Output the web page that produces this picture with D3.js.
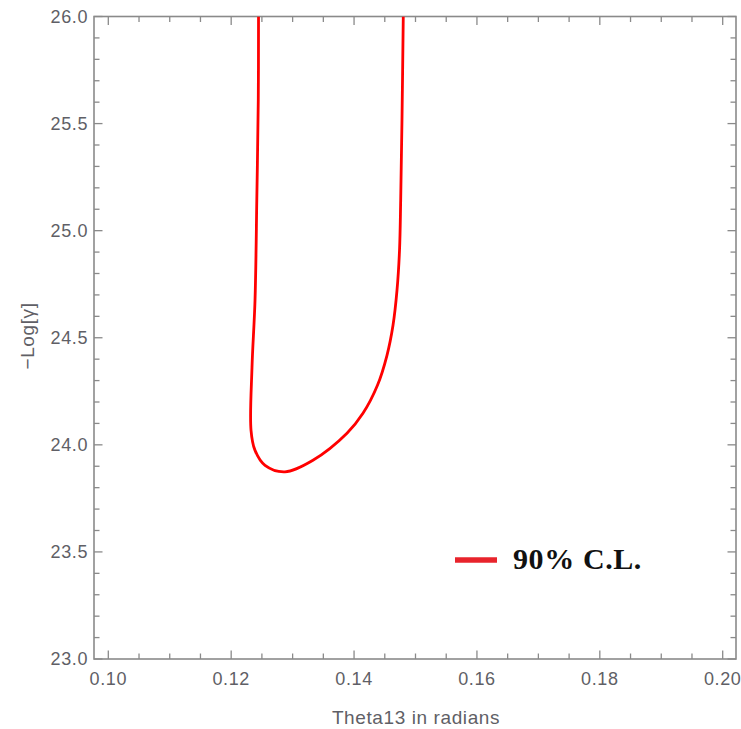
<!DOCTYPE html>
<html>
<head>
<meta charset="utf-8">
<script src="https://cdn.jsdelivr.net/npm/d3@7"></script>
<style>
html,body{margin:0;padding:0;background:#fff;}
svg{display:block;}
</style>
</head>
<body>
<svg id="chart" width="741" height="729"></svg>
<script>
// ---- data ----
const xTicks = [0.10, 0.12, 0.14, 0.16, 0.18, 0.20];
const yTicks = [23.0, 23.5, 24.0, 24.5, 25.0, 25.5, 26.0];
const contourTheta = [0.12445, 0.12441, 0.12417, 0.12388, 0.12339, 0.12323, 0.12388, 0.12551, 0.12876, 0.13331, 0.13885, 0.14145, 0.14381, 0.14536, 0.14634, 0.14699, 0.14740, 0.14759, 0.14780, 0.14801];
const contourLogGamma = [26.0, 25.61, 25.143, 24.675, 24.362, 24.068, 23.974, 23.904, 23.874, 23.928, 24.054, 24.147, 24.278, 24.418, 24.558, 24.722, 24.909, 25.143, 25.516, 26.0];
const legendLabel = "90% C.L.";
const xTitle = "Theta13 in radians";
const yTitle = "\u2212Log[\u03b3]";

const svg = d3.select("#chart");
const L = 94, R = 736, T = 16.5, B = 659;
const x = d3.scaleLinear().domain([0.10, 0.20]).range([108.3, 722.7]);
const y = d3.scaleLinear().domain([23, 26]).range([B, T]);
const axisColor = "#8a8a8a";
const labelColor = "#5f5f66";

// clip
svg.append("defs").append("clipPath").attr("id","clip")
  .append("rect").attr("x",L).attr("y",T).attr("width",R-L).attr("height",B-T);

// minor tick values
const xMinor = d3.range(0, 21).map(i => +(0.10 + i*0.005).toFixed(4)).filter(v => !xTicks.some(t => Math.abs(t-v)<1e-9));
const yMinor = d3.range(0, 31).map(i => +(23 + i*0.1).toFixed(3)).filter(v => !yTicks.some(t => Math.abs(t-v)<1e-9));

const g = svg.append("g");
const tickStyle = s => s.attr("stroke", axisColor).attr("stroke-width", 1.3);

function xTickLines(vals, len){
  vals.forEach(v => {
    const px = x(v);
    tickStyle(g.append("line").attr("x1",px).attr("x2",px).attr("y1",B).attr("y2",B-len));
    tickStyle(g.append("line").attr("x1",px).attr("x2",px).attr("y1",T).attr("y2",T+len));
  });
}
function yTickLines(vals, len){
  vals.forEach(v => {
    const py = y(v);
    tickStyle(g.append("line").attr("x1",L).attr("x2",L+len).attr("y1",py).attr("y2",py));
    tickStyle(g.append("line").attr("x1",R).attr("x2",R-len).attr("y1",py).attr("y2",py));
  });
}
xTickLines(xTicks, 8.5);
xTickLines(xMinor, 5.5);
yTickLines(yTicks, 8.5);
yTickLines(yMinor, 5.5);

// frame
g.append("rect").attr("x",L).attr("y",T).attr("width",R-L).attr("height",B-T)
  .attr("fill","none").attr("stroke",axisColor).attr("stroke-width",1.6);

// tick labels
const tickFont = "Liberation Sans, Arial, sans-serif";
xTicks.forEach(v => {
  g.append("text").attr("x", x(v)).attr("y", B+26).attr("text-anchor","middle")
    .attr("font-family", tickFont).attr("font-size", 18).attr("letter-spacing", 0.6)
    .attr("fill", labelColor).text(d3.format(".2f")(v));
});
yTicks.forEach(v => {
  g.append("text").attr("x", L-6).attr("y", y(v)).attr("dy","0.36em").attr("text-anchor","end")
    .attr("font-family", tickFont).attr("font-size", 18).attr("letter-spacing", 0.6)
    .attr("fill", labelColor).text(d3.format(".1f")(v));
});

// axis titles
g.append("text").attr("x", 416).attr("y", 724).attr("text-anchor","middle")
  .attr("font-family", tickFont).attr("font-size", 19).attr("letter-spacing", 0.6)
  .attr("fill", labelColor).text(xTitle);
g.append("text").attr("transform","translate(34,336) rotate(-90)").attr("text-anchor","middle")
  .attr("font-family", tickFont).attr("font-size", 19).attr("letter-spacing", 0.6)
  .attr("fill", labelColor).text(yTitle);

// contour line
const pts = contourTheta.map((t,i) => [t, contourLogGamma[i]]);
const line = d3.line().x(d => x(d[0])).y(d => y(d[1])).curve(d3.curveCatmullRom.alpha(0.5));
svg.append("path").attr("clip-path","url(#clip)").datum(pts).attr("d", line)
  .attr("fill","none").attr("stroke","#ff0000").attr("stroke-width",2.8)
  .attr("stroke-linejoin","round");

// legend
svg.append("line").attr("x1",455).attr("x2",497).attr("y1",560).attr("y2",560)
  .attr("stroke","#e8242c").attr("stroke-width",5.5);
svg.append("text").attr("x",513).attr("y",569)
  .attr("font-family","Liberation Serif, Times New Roman, serif").attr("font-size",30)
  .attr("font-weight","bold").attr("letter-spacing", 0.6).attr("fill","#111").text(legendLabel);
</script>
</body>
</html>
